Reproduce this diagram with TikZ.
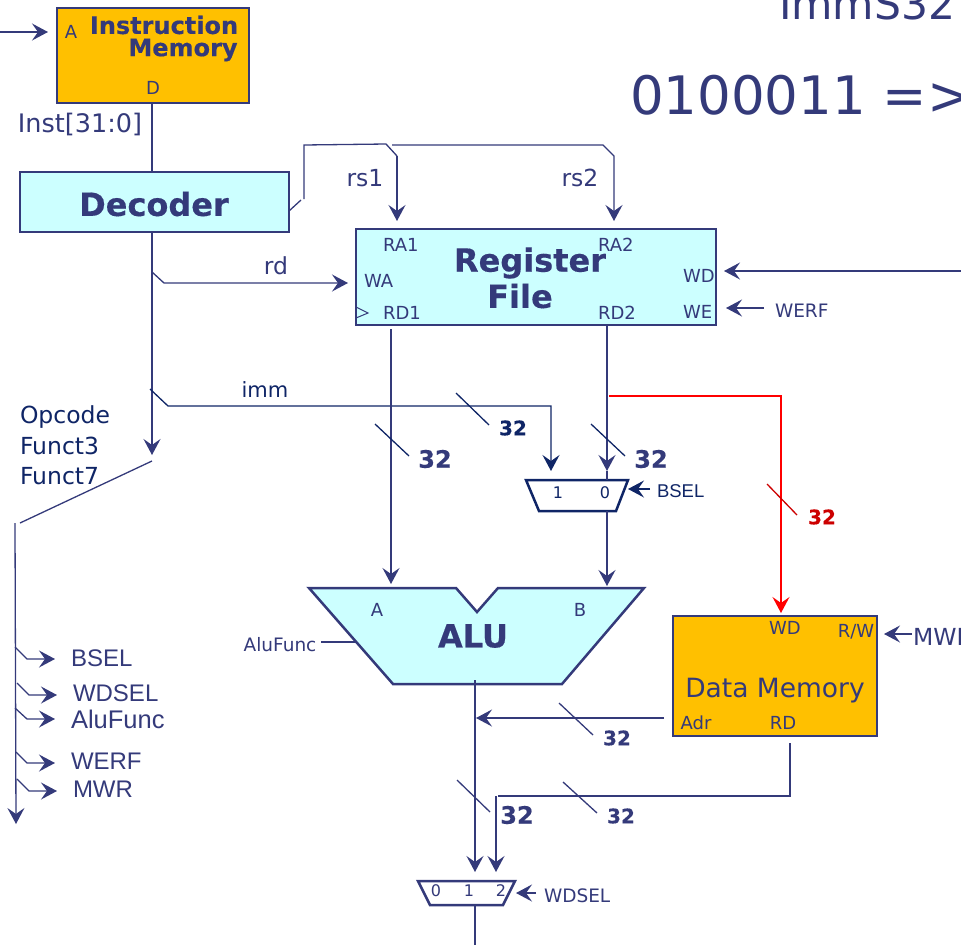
\documentclass[tikz,border=0pt]{standalone}
\usepackage{fontspec}
\setmainfont[BoldFeatures={FakeBold=0.35}]{DejaVu Sans}
\newfontfamily\arialf{Liberation Sans}
\usetikzlibrary{arrows.meta}
\definecolor{nv}{HTML}{343A7A}
\definecolor{dk}{HTML}{0F2566}
\definecolor{cy}{HTML}{CCFFFF}
\definecolor{og}{HTML}{FFC000}
\definecolor{rd}{HTML}{FF0000}
\definecolor{drd}{HTML}{CC0000}
\newcommand{\fsz}[1]{\fontsize{#1}{#1}\selectfont}
\tikzset{
  x=1pt,y=-1pt,
  wire/.style={draw=nv,line width=1.3pt,line join=miter},
  arr/.style={wire,-{Stealth[length=16pt,width=17pt,inset=6pt]}},
  darr/.style={arr,draw=dk},
  rarr/.style={arr,draw=rd},
  dtick/.style={draw=dk,line width=1.3pt},
  box/.style={draw=nv,inner sep=0pt,outer sep=0pt,anchor=north west},
  cybox/.style={box,fill=cy,line width=1.3pt},
  ogbox/.style={box,fill=og,line width=2.5pt},
  t/.style={text=nv,inner sep=0pt,outer sep=0pt,anchor=center},
  l/.style={t,anchor=west},
  sm/.style={font=\fsz{18}},
  md/.style={font=\fsz{23.5}},
  ar/.style={font=\arialf\fsz{18.5}},
  arl/.style={font=\arialf\fsz{24}},
  bd/.style={font=\bfseries\fsz{#1}},
}
\begin{document}
\begin{tikzpicture}
\useasboundingbox (0,0) rectangle (961,945);
% boxes
\node[ogbox,minimum width=192pt,minimum height=95pt] (imem) at (57,8) {};
\node[cybox,minimum width=269pt,minimum height=60pt] (dec) at (20,172) {};
\node[cybox,minimum width=360pt,minimum height=96pt] (rf) at (356,229) {};
\node[ogbox,minimum width=204pt,minimum height=120pt] (dmem) at (673,616) {};
% ALU and muxes
\filldraw[fill=cy,draw=nv,line width=2.5pt,line join=miter] (309,588) -- (456,588) -- (477,612) -- (498,588) -- (644,588) -- (562,684) -- (393,684) -- cycle;
\filldraw[fill=white,draw=dk,line width=2.5pt] (526,480) -- (628,480) -- (616,511) -- (539,511) -- cycle;
\filldraw[fill=white,draw=nv,line width=2.5pt] (418,881) -- (515,881) -- (503,905) -- (430,905) -- cycle;
\coordinate (alub) at (607,586);
\coordinate (alua) at (391,584);
\coordinate (bmuxb) at (607,511);
\coordinate (bmux0) at (607,471);
\coordinate (bmuxt) at (607,480);
\coordinate (bmux1) at (551,471);
\coordinate (wmux0) at (475,872);
\coordinate (wmux2) at (496,872);
\coordinate (wmuxb) at (475,905);
% top wires
\coordinate (pc) at (0,32);
\draw[arr] (pc) -- (48,32);
\draw[wire] (152,103) -- (152,172);
\draw[arr] (152,232) -- (152,455);
\draw[arr] (152,272) -- (164,283) -- (348,283);
\draw[darr] (150,389) -- (168,406) -- (551,406) -- (bmux1);
\draw[wire] (289,211) -- (301,200);
\draw[wire] (304,199) -- (304,145) -- (386,144) -- (397,156);
\draw[arr] (397,156) -- (397,221);
\draw[arr] (392,145) -- (603,145) -- (614,156) -- (614,221);
\draw[wire,line width=1pt] (356,307) -- (368,313) -- (356,318);
% RF outputs
\draw[arr] (391,329) -- (alua);
\draw[arr] (607,325) -- (bmux0);
\draw[wire] (bmux0) -- (bmuxt);
\draw[arr] (bmuxb) -- (alub);
\draw[rarr] (609,396) -- (781,396) -- (781,613);
% right inputs
\draw[arr] (961,271) -- (724,271);
\draw[arr] (764,308) -- (726,308);
\draw[darr] (650,489) -- (628,489);
\draw[arr] (912,634) -- (884,634);
\draw[arr] (536,893) -- (516,893);
% left control
\draw[wire] (152,461) -- (20,523);
\draw[arr] (15,523) -- (16,824);
\draw[arr] (15,647) -- (27,659) -- (55,659);
\draw[arr] (17,683) -- (29,695) -- (57,695);
\draw[arr] (15,708) -- (27,719) -- (55,719);
\draw[arr] (16,752) -- (27,763) -- (55,763);
\draw[arr] (17,779) -- (29,791) -- (57,791);
% ALU out etc.
\draw[wire] (321,642) -- (355,642);
\draw[arr] (475,680) -- (wmux0);
\draw[arr] (664,718) -- (476,718);
\draw[wire] (790,743) -- (790,796) -- (498,796);
\draw[arr] (496,796) -- (wmux2);
\draw[wire] (wmuxb) -- (475,945);
% ticks
\draw[dtick] (375,424) -- (409,456);
\draw[dtick] (456,393) -- (489,425);
\draw[dtick] (591,424) -- (625,456);
\draw[draw=drd,line width=1.3pt] (767,484) -- (797,515);
\draw[dtick,draw=nv] (559,703) -- (593,735);
\draw[dtick,draw=nv] (457,780) -- (490,812);
\draw[dtick,draw=nv] (563,782) -- (597,813);
% texts
\node[t,bd=24] (timem1) at (164,25) {Instruction};
\node[t,bd=24] (timem2) at (183,50) {Memory};
\node[t,sm] (ta) at (71,32) {A};
\node[t,sm] (td) at (153,88) {D};
\node[t,font=\fsz{25.5}] (tinst) at (80,124) {Inst[31:0]};
\node[t,bd=32] (tdec) at (154,204) {Decoder};
\node[t,md] (trs1) at (365,178) {rs1};
\node[t,md] (trs2) at (580,178) {rs2};
\node[t,md] (trd) at (276,266) {rd};
\node[t,bd=32] (trf1) at (530,263) {Register};
\node[t,bd=32] (trf2) at (520,296) {File};
\node[l,sm] (tra1) at (383,245) {RA1};
\node[l,sm] (twa) at (364,281) {WA};
\node[l,sm] (trd1) at (383,313) {RD1};
\node[l,sm] (tra2) at (598,245) {RA2};
\node[l,sm] (trd2) at (598,313) {RD2};
\node[l,sm] (twd) at (683,276) {WD};
\node[l,sm] (twe) at (683,312) {WE};
\node[l,font=\fsz{18.5}] (twerf) at (775,311) {WERF};
\node[l,text=nv,inner sep=0pt,font=\fsz{42.5}] (timm) at (779,4) {ImmS32};
\node[l,font=\fsz{53}] (tbin) at (630,95) {0100011 =>};
\node[t,font=\fsz{21},text=dk] (timmw) at (265,390) {imm};
\node[l,md,text=dk] (top) at (20,417) {Opcode};
\node[l,md,text=dk] (tf3) at (20,446) {Funct3};
\node[l,md,text=dk] (tf7) at (20,476) {Funct7};
\node[t,bd=24] at (435,459) {32};
\node[t,bd=20,text=dk] at (513,428) {32};
\node[t,bd=24] at (651,459) {32};
\node[t,bd=20,text=drd] at (822,517) {32};
\node[t,bd=20] at (617,738) {32};
\node[t,bd=24] at (517,815) {32};
\node[t,bd=20] at (621,816) {32};
\node[t,font=\fsz{16},text=dk] at (558,493) {1};
\node[t,font=\fsz{16},text=dk] at (605,493) {0};
\node[l,ar,text=dk] (tbsel) at (657,491) {BSEL};
\node[t,sm] at (377,610) {A};
\node[t,sm] at (580,610) {B};
\node[t,bd=32] (talu) at (473,636) {ALU};
\node[t,font=\fsz{18.5}] (talf) at (280,645) {AluFunc};
\node[t,sm] at (785,628) {WD};
\node[t,sm] at (856,632) {R/W};
\node[l,font=\fsz{23.5}] (tmwr) at (913,637) {MWR};
\node[t,font=\fsz{26.5}] (tdm) at (775,691) {Data Memory};
\node[t,sm] at (696,723) {Adr};
\node[t,sm] at (783,723) {RD};
\node[t,font=\fsz{16}] at (436,891) {0};
\node[t,font=\fsz{16}] at (469,891) {1};
\node[t,font=\fsz{16}] at (501,891) {2};
\node[l,font=\fsz{18.5}] (twds) at (544,896) {WDSEL};
\node[l,arl] at (71,658) {BSEL};
\node[l,arl] at (73,693) {WDSEL};
\node[l,font=\arialf\fsz{25.5}] at (71,719) {AluFunc};
\node[l,arl] at (71,761) {WERF};
\node[l,arl] at (73,789) {MWR};
\end{tikzpicture}
\end{document}
